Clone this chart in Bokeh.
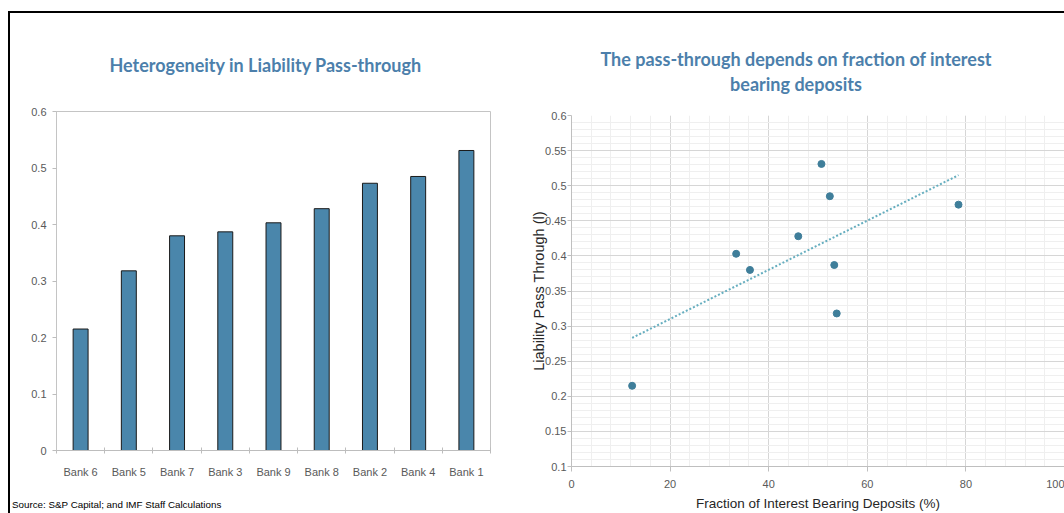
import numpy as np
from bokeh.plotting import figure
from bokeh.models import (Range1d, FixedTicker, Div, Spacer, Title, NumeralTickFormatter)
from bokeh.layouts import row, column
from bokeh.embed import file_html
from bokeh.resources import INLINE

# ---------------- data ----------------
banks = ["Bank 6", "Bank 5", "Bank 7", "Bank 3", "Bank 9", "Bank 8", "Bank 2", "Bank 4", "Bank 1"]
pass_through = [0.215, 0.318, 0.380, 0.387, 0.403, 0.428, 0.473, 0.485, 0.531]
interest_bearing_share = [12.3, 53.8, 36.2, 53.3, 33.4, 46.0, 78.5, 52.4, 50.7]

bar_y_ticks = [0, 0.1, 0.2, 0.3, 0.4, 0.5, 0.6]
scatter_x_ticks = [0, 20, 40, 60, 80, 100]
scatter_y_ticks = [0.1, 0.15, 0.2, 0.25, 0.3, 0.35, 0.4, 0.45, 0.5, 0.55, 0.6]

left_title = "Heterogeneity in Liability Pass-through"
right_title_1 = "The pass-through depends on fraction of interest"
right_title_2 = "bearing deposits"
x_label = "Fraction of Interest Bearing Deposits (%)"
y_label = "Liability Pass Through (l)"
source_text = "Source: S&amp;P Capital; and IMF Staff Calculations"

TITLE_COLOR = "#4c7fab"
BAR_COLOR = "#4a86ab"
DOT_COLOR = "#3f7e9a"
TREND_COLOR = "#66aebf"
TICK_COLOR = "#595959"
SANS = "Liberation Sans"
TITLE_FONT = "Lato"

# ---------------- left: bar chart ----------------
centers = [i + 0.5 for i in range(len(banks))]
boundaries = list(range(len(banks) + 1))

p1 = figure(width=518, height=480, x_range=Range1d(0, len(banks)), y_range=Range1d(0, 0.6),
            output_backend="svg", toolbar_location=None,
            min_border_left=46, min_border_right=38, min_border_top=98, min_border_bottom=43)
p1.grid.visible = False
p1.outline_line_color = "#c4c4c4"
p1.background_fill_color = "white"
p1.border_fill_color = "white"

p1.vbar(x=centers, top=pass_through, width=0.31, bottom=0,
        fill_color=BAR_COLOR, line_color="#1a1a1a", line_width=1)

xa = p1.xaxis[0]
xa.ticker = FixedTicker(ticks=centers, minor_ticks=boundaries)
xa.major_label_overrides = {c: b for c, b in zip(centers, banks)}
xa.major_tick_line_color = None
xa.major_tick_out = 0
xa.major_tick_in = 0
xa.minor_tick_line_color = "#bdbdbd"
xa.minor_tick_in = 3
xa.minor_tick_out = 3
xa.axis_line_color = "#bdbdbd"
xa.major_label_standoff = 12
xa.major_label_text_font = SANS
xa.major_label_text_font_size = "11px"
xa.major_label_text_color = TICK_COLOR

ya = p1.yaxis[0]
ya.ticker = FixedTicker(ticks=bar_y_ticks)
ya.formatter = NumeralTickFormatter(format="0.[0]")
ya.axis_line_color = "#c4c4c4"
ya.major_tick_line_color = "#bdbdbd"
ya.major_tick_out = 4
ya.major_tick_in = 0
ya.minor_tick_line_color = None
ya.major_label_standoff = 6
ya.major_label_text_font = SANS
ya.major_label_text_font_size = "11px"
ya.major_label_text_color = TICK_COLOR

p1.title = Title(text=left_title, align="left", offset=53, standoff=72,
                 text_font=TITLE_FONT, text_font_style="bold", text_font_size="18px",
                 text_color=TITLE_COLOR)

source_div = Div(
    text=('<div style="padding:6px 0 0 2px; font-family:\'Liberation Sans\'; font-size:9.8px; '
          'line-height:12px; color:#000; white-space:nowrap;">' + source_text + '</div>'),
    width=518, height=20, margin=0)

# ---------------- right: scatter ----------------
p2 = figure(width=536, height=410, x_range=Range1d(0, 100), y_range=Range1d(0.1, 0.6),
            output_backend="svg", toolbar_location=None,
            min_border_left=43, min_border_right=0, min_border_top=12, min_border_bottom=47)
p2.outline_line_color = None
p2.background_fill_color = "white"
p2.border_fill_color = "white"

xa2 = p2.xaxis[0]
xa2.ticker = FixedTicker(ticks=scatter_x_ticks, minor_ticks=list(range(0, 101, 4)))
ya2 = p2.yaxis[0]
ya2.ticker = FixedTicker(ticks=scatter_y_ticks,
                         minor_ticks=[round(0.1 + 0.01 * i, 2) for i in range(51)])
ya2.formatter = NumeralTickFormatter(format="0.[00]")

p2.xgrid.ticker = xa2.ticker
p2.ygrid.ticker = ya2.ticker
for g in (p2.xgrid[0], p2.ygrid[0]):
    g.grid_line_color = "#d6d6d6"
    g.grid_line_width = 1
    g.minor_grid_line_color = "#efefef"
    g.minor_grid_line_width = 1

for ax in (xa2, ya2):
    ax.axis_line_color = "#bfbfbf"
    ax.major_tick_line_color = "#bfbfbf"
    ax.major_tick_in = 0
    ax.minor_tick_line_color = None
    ax.major_label_text_color = TICK_COLOR
    ax.major_label_text_font = SANS
    ax.major_label_text_font_size = "11px"
    ax.axis_label_text_font = SANS
    ax.axis_label_text_font_style = "normal"
    ax.axis_label_text_color = "#262626"
xa2.major_tick_out = 5
xa2.major_label_standoff = 8
ya2.major_tick_out = 4
ya2.major_label_standoff = 1

xa2.axis_label = x_label
xa2.axis_label_text_font_size = "13.5px"
xa2.axis_label_standoff = 5
ya2.axis_label = y_label
ya2.axis_label_text_font_size = "14.5px"
ya2.axis_label_standoff = -5

# linear trend fitted from the data
slope, intercept = np.polyfit(interest_bearing_share, pass_through, 1)
trend_x = [min(interest_bearing_share), max(interest_bearing_share)]
trend_y = [slope * v + intercept for v in trend_x]
p2.line(trend_x, trend_y, line_color=TREND_COLOR, line_width=2, line_dash="2 2")
p2.scatter(x=interest_bearing_share, y=pass_through, size=7,
           fill_color=DOT_COLOR, line_color=DOT_COLOR)

right_title_div = Div(
    text=('<div style="padding-top:34px; width:536px; text-align:center; font-family:Lato; '
          'font-weight:bold; font-size:18px; line-height:25px; color:' + TITLE_COLOR + ';">'
          + right_title_1 + '<br>' + right_title_2 + '</div>'),
    width=536, height=90, margin=0)

# ---------------- frame lines + layout ----------------
top_gap = Spacer(width=1064, height=11, margin=0)
top_line = Div(text="", width=1056, height=2, margin=0, styles={"background-color": "#000000"})
left_line = Div(text="", width=2, height=500, margin=0, styles={"background-color": "#000000"})

layout = column(
    top_gap,
    row(Spacer(width=8, height=2, margin=0), top_line, spacing=0),
    row(Spacer(width=8, height=500, margin=0), left_line,
        column(p1, source_div, spacing=0),
        column(right_title_div, p2, spacing=0),
        spacing=0),
    spacing=0,
)

with open("out.html", "w") as f:
    f.write(file_html(layout, INLINE))
